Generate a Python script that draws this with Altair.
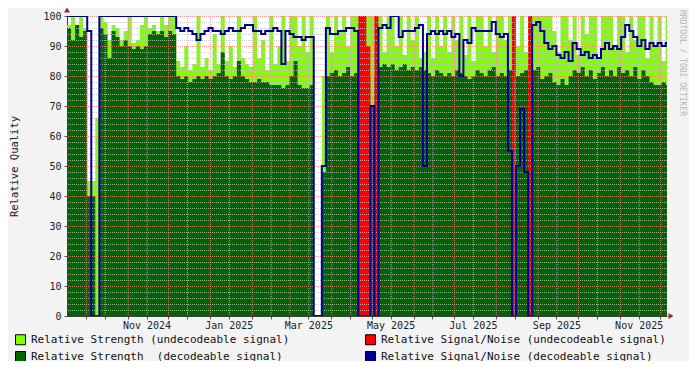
import altair as alt
import pandas as pd

# ---------------- data (one value per 3 days) ----------------
START_DATE = "2024-09-17"
STEP_DAYS = 3
DOMAIN_START = (2024, 9, 17)
DOMAIN_END = (2025, 12, 6)

strength_undecodeable = [
    97, 100, 97, 100, 96, 45, 45, 66, 100, 98,
    92, 97, 96, 92, 95, 100, 91, 92, 97, 100,
    96, 97, 95, 100, 97, 100, 100, 85, 83, 90,
    82, 84, 100, 83, 86, 82, 94, 84, 100, 85,
    90, 83, 100, 86, 84, 83, 100, 86, 92, 82,
    100, 84, 90, 100, 85, 100, 100, 90, 100, 88,
    100, 0, 0, 80, 100, 88, 100, 95, 100, 90,
    100, 100, 100, 100, 100, 100, 100, 100, 88, 100,
    100, 90, 100, 87, 100, 92, 100, 86, 88, 100,
    86, 100, 90, 100, 88, 100, 92, 100, 87, 100,
    85, 100, 100, 90, 100, 88, 100, 100, 92, 100,
    100, 90, 100, 88, 100, 100, 100, 100, 100, 100,
    95, 88, 100, 100, 92, 100, 87, 100, 94, 100,
    100, 86, 100, 100, 100, 90, 100, 100, 88, 100,
    92, 100, 100, 86, 100, 90, 100, 85, 100,
]

strength_decodeable = [
    96, 92, 97, 93, 95, 40, 40, 0, 96, 94,
    86, 95, 93, 90, 92, 90, 89, 90, 89, 90,
    94, 95, 94, 95, 93, 95, 94, 80, 79, 80,
    78, 79, 80, 79, 80, 79, 80, 81, 88, 80,
    79, 80, 85, 80, 79, 78, 78, 79, 78, 78,
    77, 77, 77, 76, 77, 80, 85, 77, 76, 76,
    77, 0, 0, 48, 80, 81, 82, 80, 81, 83,
    80, 81, 80, 80, 80, 70, 80, 83, 84, 83,
    84, 82, 83, 84, 82, 83, 82, 83, 82, 81,
    80, 82, 81, 80, 81, 80, 82, 81, 80, 79,
    80, 82, 81, 80, 82, 83, 80, 81, 80, 82,
    82, 80, 81, 82, 80, 82, 83, 79, 80, 81,
    78, 77, 79, 77, 80, 82, 81, 83, 80, 82,
    79, 81, 83, 80, 82, 80, 83, 81, 82, 80,
    83, 79, 82, 80, 78, 77, 77, 78, 77,
]

snr_undecodeable = [
    0, 0, 0, 0, 0, 0, 0, 0, 0, 0,
    0, 0, 0, 0, 0, 0, 0, 0, 0, 0,
    0, 0, 0, 0, 0, 0, 0, 0, 0, 0,
    0, 0, 0, 0, 0, 0, 0, 0, 0, 0,
    0, 0, 0, 0, 0, 0, 0, 0, 0, 0,
    0, 0, 0, 0, 0, 0, 0, 0, 0, 0,
    0, 0, 0, 0, 0, 0, 0, 0, 0, 0,
    0, 0, 100, 100, 90, 0, 100, 0, 0, 0,
    0, 0, 0, 0, 0, 0, 0, 0, 0, 0,
    0, 0, 0, 0, 0, 0, 0, 0, 0, 0,
    0, 0, 0, 0, 0, 0, 0, 0, 0, 0,
    100, 0, 0, 0, 100, 0, 0, 0, 0, 0,
    0, 0, 0, 0, 0, 0, 0, 0, 0, 0,
    0, 0, 0, 0, 0, 0, 0, 0, 0, 0,
    0, 0, 0, 0, 0, 0, 0, 0, 0,
]

snr_decodeable = [
    100, 100, 100, 100, 100, 95, 0, 0, 100, 100,
    100, 100, 100, 100, 100, 100, 100, 100, 100, 100,
    100, 100, 100, 100, 100, 100, 100, 96, 95, 96,
    95, 94, 92, 94, 95, 96, 95, 95, 94, 95,
    96, 95, 95, 96, 97, 97, 95, 95, 94, 95,
    95, 96, 95, 84, 95, 94, 93, 93, 92, 93,
    93, 0, 0, 50, 96, 94, 94, 95, 95, 96,
    96, 95, 0, 0, 0, 70, 0, 96, 97, 96,
    100, 100, 93, 95, 95, 95, 96, 97, 50, 94,
    95, 94, 95, 94, 95, 93, 94, 80, 92, 91,
    96, 95, 95, 95, 95, 98, 94, 93, 94, 55,
    0, 50, 69, 48, 0, 97, 98, 95, 91, 89,
    90, 87, 86, 88, 85, 91, 89, 87, 88, 86,
    87, 86, 89, 91, 89, 90, 89, 93, 97, 95,
    93, 90, 92, 89, 91, 90, 91, 90, 91,
]

# legend order (the legend fills column by column)
series_names = [
    "Relative Strength (undecodeable signal)",
    "Relative Strength\u00a0 (decodeable signal)",
    "Relative Signal/Noise (undecodeable signal)",
    "Relative Signal/Noise (decodeable signal)",
]
series_colors = ["#80ff00", "#006600", "#ff0000", "#000096"]
C_LG, C_DG, C_RED, C_BLUE = series_colors

y_label_values = list(range(0, 101, 10))
y_minor_grid = [v for v in range(2, 100, 2) if v % 10 != 0]
y_major_grid = list(range(10, 101, 10))

MONO = "DejaVu Sans Mono"

# ---------------- tables ----------------
n = len(strength_decodeable)
dates = pd.date_range(START_DATE, periods=n + 1, freq=f"{STEP_DAYS}D")


def ext(v):
    return list(v) + [v[-1]]


df = pd.DataFrame({
    "date": dates,
    "lg": ext(strength_undecodeable),
    "dg": ext(strength_decodeable),
    "red": ext(snr_undecodeable),
    "blue": ext(snr_decodeable),
})

d0 = pd.Timestamp("2024-09-17")
d1 = pd.Timestamp("2025-12-06")
month_starts = [d for d in pd.date_range("2024-09-01", "2025-12-31", freq="MS") if d0 <= d <= d1]
mid_months = [d for d in pd.date_range("2024-09-01", "2025-12-31", freq="SMS") if d.day == 15 and d0 <= d <= d1]
tick_dates = sorted(month_starts + mid_months)

xgrid_major = pd.DataFrame({"date": month_starts})
xgrid_minor = pd.DataFrame({"date": mid_months})
ygrid_major = pd.DataFrame({"v": y_major_grid})
ygrid_minor = pd.DataFrame({"v": y_minor_grid})
legend_df = pd.DataFrame({"series": series_names})

# ---------------- scales / axes ----------------
xscale = alt.Scale(
    domain=[alt.DateTime(year=DOMAIN_START[0], month=DOMAIN_START[1], date=DOMAIN_START[2]),
            alt.DateTime(year=DOMAIN_END[0], month=DOMAIN_END[1], date=DOMAIN_END[2])],
    nice=False,
)
yscale = alt.Scale(domain=[0, 100], nice=False, zero=True)

xaxis = alt.Axis(
    title=None,
    values=[alt.DateTime(year=d.year, month=d.month, date=d.day) for d in tick_dates],
    labelExpr="date(datum.value) == 15 && month(datum.value) % 2 == 0 ? timeFormat(datum.value, '%b %Y') : ''",
    labelFont=MONO, labelFontSize=10, labelColor="#222222",
    labelPadding=1, labelFlush=False, labelOverlap=False, labelAngle=0,
    tickSize=3, tickColor="#555555", domainColor="#404040", grid=False,
)
yaxis = alt.Axis(
    title="Relative Quality",
    values=y_label_values,
    labelFont=MONO, labelFontSize=10, labelColor="#222222", labelPadding=3,
    tickSize=3, tickColor="#555555", domainColor="#404040", grid=False,
    titleFont=MONO, titleFontSize=10.5, titleFontWeight="normal", titleColor="#222222",
    titlePadding=23,
)


def X(field):
    return alt.X(field, type="temporal", scale=xscale, axis=xaxis)


def Y(field):
    return alt.Y(field, type="quantitative", scale=yscale, axis=yaxis)


base = alt.Chart(df)

lg_area = base.mark_area(interpolate="step-after", color=C_LG, clip=True).encode(x=X("date"), y=Y("lg"))
dg_area = base.mark_area(interpolate="step-after", color=C_DG, clip=True).encode(x=X("date"), y=Y("dg"))
red_area = base.mark_area(interpolate="step-after", color=C_RED, clip=True).encode(x=X("date"), y=Y("red"))
blue_line = base.mark_line(interpolate="step-after", color=C_BLUE, strokeWidth=2, clip=True).encode(x=X("date"), y=Y("blue"))

dash = [1, 1]
xg_minor = alt.Chart(xgrid_minor).mark_rule(color="#c0c0c0", strokeDash=dash, opacity=0.8, xOffset=0.5).encode(x=X("date"))
xg_major = alt.Chart(xgrid_major).mark_rule(color="#ff8080", strokeDash=dash, opacity=0.8, xOffset=0.5, clip=True).encode(x=X("date"))
yg_minor = alt.Chart(ygrid_minor).mark_rule(color="#c0c0c0", strokeDash=dash, opacity=0.8, yOffset=0.5).encode(y=Y("v"))
yg_major = alt.Chart(ygrid_major).mark_rule(color="#ff8080", strokeDash=dash, opacity=0.8, yOffset=0.5).encode(y=Y("v"))

legend_layer = alt.Chart(legend_df).mark_square(opacity=0, size=10).encode(
    x=alt.value(0), y=alt.value(0),
    color=alt.Color(
        "series:N",
        scale=alt.Scale(domain=series_names, range=series_colors),
        legend=alt.Legend(
            title=None, orient="none", legendX=-52, legendY=318, columns=2,
            symbolType="square", symbolSize=100, symbolStrokeColor="#000000",
            symbolStrokeWidth=1, symbolOpacity=1,
            labelFont=MONO, labelFontSize=11, labelColor="#111111", labelLimit=500,
            labelOffset=5, columnPadding=73, rowPadding=2, padding=0, offset=0,
        ),
    ),
)

one = pd.DataFrame({"k": [0]})
arrow_up = alt.Chart(one).mark_point(shape="triangle-up", filled=True, color="#9c2a2a", size=35, opacity=1).encode(
    x=alt.value(0), y=alt.value(-6))
arrow_right = alt.Chart(one).mark_point(shape="triangle-right", filled=True, color="#9c2a2a", size=35, opacity=1).encode(
    x=alt.value(604), y=alt.value(300))
watermark = alt.Chart(one).mark_text(
    text="RRDTOOL / TOBI OETIKER", angle=90, align="left", baseline="middle",
    font=MONO, fontSize=8, color="#b8b8b8",
).encode(x=alt.value(615), y=alt.value(-6))

chart = alt.layer(
    lg_area, dg_area, red_area,
    xg_minor, xg_major, yg_minor, yg_major,
    blue_line, legend_layer, arrow_up, arrow_right, watermark,
).properties(
    width=600, height=300,
    background="#f3f3f3",
    padding={"left": 59, "top": 8, "right": 22, "bottom": 45},
    autosize=alt.AutoSizeParams(type="none"),
).configure_view(fill="white", stroke=None)

chart.save("out.html", embed_options={"renderer": "svg", "actions": False})
